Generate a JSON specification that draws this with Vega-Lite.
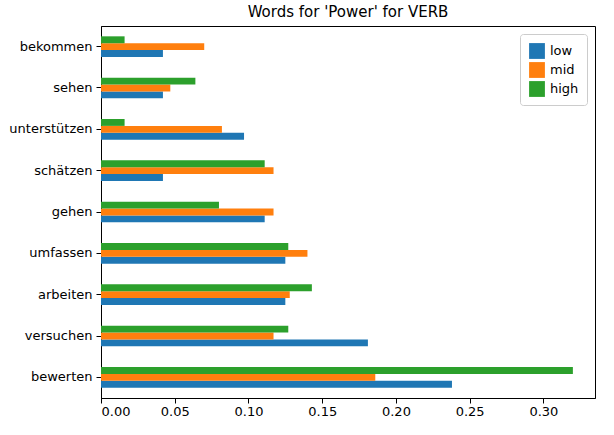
{
  "$schema": "https://vega.github.io/schema/vega-lite/v6.json",
  "width": 494,
  "height": 372,
  "padding": {"left": 8, "top": 5, "right": 5, "bottom": 5},
  "title": {"text": "Words for 'Power' for VERB", "font": "DejaVu Sans", "fontSize": 15, "fontWeight": "normal", "color": "black", "offset": 6},
  "view": {"stroke": "black", "strokeWidth": 1},
  "config": {"font": "DejaVu Sans", "view": {"stroke": "black"}},
  "data": {"values": [
    {"word": "bewerten", "level": "low", "v": 0.238},
    {"word": "bewerten", "level": "mid", "v": 0.186},
    {"word": "bewerten", "level": "high", "v": 0.320},
    {"word": "versuchen", "level": "low", "v": 0.181},
    {"word": "versuchen", "level": "mid", "v": 0.117},
    {"word": "versuchen", "level": "high", "v": 0.127},
    {"word": "arbeiten", "level": "low", "v": 0.125},
    {"word": "arbeiten", "level": "mid", "v": 0.128},
    {"word": "arbeiten", "level": "high", "v": 0.143},
    {"word": "umfassen", "level": "low", "v": 0.125},
    {"word": "umfassen", "level": "mid", "v": 0.140},
    {"word": "umfassen", "level": "high", "v": 0.127},
    {"word": "gehen", "level": "low", "v": 0.111},
    {"word": "gehen", "level": "mid", "v": 0.117},
    {"word": "gehen", "level": "high", "v": 0.080},
    {"word": "schätzen", "level": "low", "v": 0.042},
    {"word": "schätzen", "level": "mid", "v": 0.117},
    {"word": "schätzen", "level": "high", "v": 0.111},
    {"word": "unterstützen", "level": "low", "v": 0.097},
    {"word": "unterstützen", "level": "mid", "v": 0.082},
    {"word": "unterstützen", "level": "high", "v": 0.016},
    {"word": "sehen", "level": "low", "v": 0.042},
    {"word": "sehen", "level": "mid", "v": 0.047},
    {"word": "sehen", "level": "high", "v": 0.064},
    {"word": "bekommen", "level": "low", "v": 0.042},
    {"word": "bekommen", "level": "mid", "v": 0.070},
    {"word": "bekommen", "level": "high", "v": 0.016}
  ]},
  "mark": {"type": "bar"},
  "encoding": {
    "y": {"field": "word", "type": "nominal", "title": null, "sort": ["bekommen", "sehen", "unterstützen", "schätzen", "gehen", "umfassen", "arbeiten", "versuchen", "bewerten"], "scale": {"paddingInner": 0.5, "paddingOuter": 0.25}, "axis": {"labelPadding": 4, "labelFontSize": 13, "labelColor": "black", "tickColor": "black", "domainColor": "black", "grid": false}},
    "yOffset": {"field": "level", "type": "nominal", "scale": {"domain": ["high", "mid", "low"]}},
    "x": {"field": "v", "type": "quantitative", "title": null, "scale": {"domain": [0, 0.335], "nice": false}, "axis": {"values": [0, 0.05, 0.1, 0.15, 0.2, 0.25, 0.3], "format": ".2f", "labelFontSize": 13, "labelColor": "black", "tickColor": "black", "domainColor": "black", "grid": false}},
    "color": {"field": "level", "type": "nominal", "scale": {"domain": ["low", "mid", "high"], "range": ["#1f77b4", "#ff7f0e", "#2ca02c"]}, "legend": {"title": null, "orient": "top-right", "labelFontSize": 13, "labelColor": "black", "symbolType": "square", "symbolSize": 250, "strokeColor": "#cccccc", "padding": 8, "fillColor": "white", "cornerRadius": 3, "offset": 8}}
  }
}
